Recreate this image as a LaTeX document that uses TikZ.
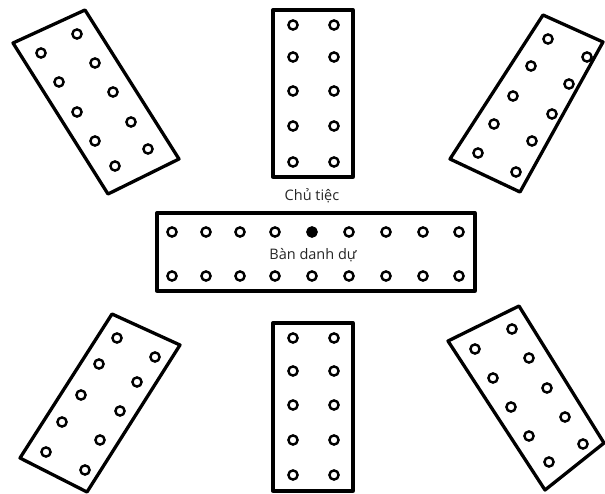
\documentclass[tikz,border=0pt]{standalone}
\usepackage{fontspec}
\setmainfont{Open Sans}
\begin{document}
\begin{tikzpicture}[x=1pt,y=-1pt,
  tbl/.style={draw=black,line width=3.3pt,line join=round},
  seat/.style={draw=black,line width=2.4pt,fill=white},
  host/.style={draw=black,line width=2.4pt,fill=black},
  lbl/.style={text=black!85,font=\fontsize{14.5}{16}\selectfont,inner sep=0pt,anchor=base}]
\useasboundingbox (0,0) rectangle (605,493);
% top-left table
\draw[tbl] (13,43) -- (85,10) -- (179,159) -- (108,194) -- cycle;
\foreach \p in {(77,34),(95,63),(113,92),(131,122),(148,149),(41,53),(59,82),(77,112),(95,141),(115,166)}
  \draw[seat] \p circle (4.6);
% top-right table
\draw[tbl] (543,15) -- (603,42) -- (520,192) -- (450,159) -- cycle;
\foreach \p in {(548,39),(531,66),(513,96),(494,124),(478,153),(587,57),(569,84),(552,114),(532,141),(516,172)}
  \draw[seat] \p circle (4.6);
% bottom-left table
\draw[tbl] (112,314) -- (180,345) -- (87,492) -- (20,458) -- cycle;
\foreach \p in {(117,338),(155,357),(99,364),(137,382),(81,395),(120,411),(62,422),(100,440),(46,452),(85,470)}
  \draw[seat] \p circle (4.6);
% bottom-right table
\draw[tbl] (448,341) -- (519,306) -- (604,443) -- (545,490) -- cycle;
\foreach \p in {(512,329),(475,349),(529,358),(493,378),(547,388),(511,407),(565,417),(529,436),(583,444),(549,462)}
  \draw[seat] \p circle (4.6);
% top-center table
\draw[tbl] (273,10) rectangle (353,177);
\foreach \y in {25,57,91,126,162}{
  \draw[seat] (293,\y) circle (4.6);
  \draw[seat] (334,\y) circle (4.6);}
% bottom-center table
\draw[tbl] (273,323) rectangle (353,491);
\foreach \y in {338,371,405,440,475}{
  \draw[seat] (293,\y) circle (4.6);
  \draw[seat] (334,\y) circle (4.6);}
% head table
\draw[tbl] (157,213) rectangle (475,291);
\foreach \x in {172,206,240,275,349,386,423,459}
  \draw[seat] (\x,232) circle (4.6);
\draw[host] (312,232) circle (4.6);
\foreach \x in {172,206,240,275,312,349,386,423,459}
  \draw[seat] (\x,276) circle (4.6);
\node[lbl] (host) at (312,200) {Chủ tiệc};
\node[lbl] (head) at (313,259) {Bàn danh dự};
\end{tikzpicture}
\end{document}
